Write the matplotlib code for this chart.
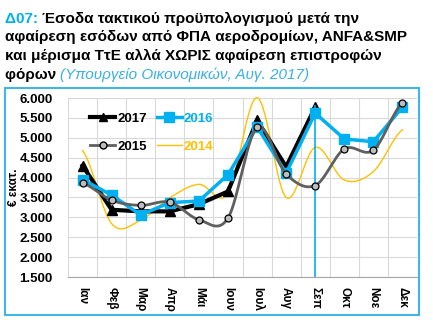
import numpy as np
import matplotlib
matplotlib.use("Agg")
import matplotlib.pyplot as plt
from matplotlib.patches import Rectangle
from matplotlib.lines import Line2D

plt.rcParams['font.family'] = ['Liberation Sans', 'DejaVu Sans']

months = ['Ιαν', 'Φεβ', 'Μαρ', 'Απρ', 'Μάι', 'Ιουν', 'Ιουλ', 'Αυγ', 'Σεπ', 'Οκτ', 'Νοε', 'Δεκ']

# εκατ. ευρώ ανά μήνα
y2017 = [4300, 3190, 3150, 3150, 3330, 3650, 5440, 4270, 5770]
y2016 = [3950, 3560, 3060, 3370, 3410, 4070, 5280, 4110, 5620, 4970, 4900, 5770]
y2015 = [3860, 3430, 3300, 3380, 2940, 2980, 5260, 4090, 3800, 4720, 4690, 5870]
y2014 = [4680, 2840, 2930, 3490, 3830, 3600, 6010, 3500, 4760, 3940, 4150, 5200]

sep_line_top = 5830

BLUE = '#00B0F0'
ORANGE = '#FFC000'
GRAY = '#5F5F5F'
W, H = 433, 323


def smooth(y, n=30):
    # καμπύλη Catmull-Rom όπως η "εξομάλυνση γραμμής" του Excel
    y = np.asarray(y, float)
    k = len(y)
    m = np.empty(k)
    m[1:-1] = (y[2:] - y[:-2]) / 2
    m[0] = (y[1] - y[0]) / 2
    m[-1] = (y[-1] - y[-2]) / 2
    xs, ys = [], []
    for i in range(k - 1):
        t = np.linspace(0, 1, n, endpoint=(i == k - 2))
        h00 = 2 * t**3 - 3 * t**2 + 1
        h10 = t**3 - 2 * t**2 + t
        h01 = -2 * t**3 + 3 * t**2
        h11 = t**3 - t**2
        xs.append(i + t)
        ys.append(h00 * y[i] + h10 * m[i] + h01 * y[i + 1] + h11 * m[i + 1])
    return np.concatenate(xs), np.concatenate(ys)


fig = plt.figure(figsize=(W / 100, H / 100), dpi=100)
ax = fig.add_axes([68 / W, 1 - 277 / H, (417 - 68) / W, (277 - 98) / H])

x = np.arange(len(months))

xs, ys = smooth(y2014)
ax.plot(xs, ys, color=ORANGE, lw=1.0, zorder=3, clip_on=False)
ax.plot(x[:len(y2017)], y2017, color='black', lw=3, marker='^', ms=7, zorder=4)
ax.plot(x, y2016, color=BLUE, lw=2.5, marker='s', ms=7.5, zorder=5)
xs, ys = smooth(y2015)
ax.plot(xs, ys, color=GRAY, lw=2, zorder=6)
ax.plot(x, y2015, ls='none', marker='o', ms=5, mfc='#BDBDBD', mec='black', mew=0.9, zorder=7)

ax.vlines(8, 1500, sep_line_top, color=BLUE, lw=1.2, zorder=4, clip_on=False)

ax.set_xlim(-0.5, 11.5)
ax.set_ylim(1500, 6000)
ax.set_xticks(x)
ax.set_xticklabels(months, rotation=-90, fontsize=8.5, fontweight='bold', va='top')
ax.set_xticks(np.arange(-0.5, 12, 1), minor=True)
ax.set_yticks(np.arange(1500, 6001, 500))
ax.set_yticklabels([f'{v:,}'.replace(',', '.') for v in range(1500, 6001, 500)],
                   fontsize=9.5, fontweight='bold')
ax.tick_params(axis='x', which='both', length=0, pad=7)
ax.tick_params(axis='y', length=0, pad=11)
ax.grid(True, axis='y', color='#D9D9D9', lw=0.8)
ax.grid(True, axis='x', which='minor', color='#D9D9D9', lw=0.8)
ax.set_axisbelow(True)
for s in ['top', 'right', 'left']:
    ax.spines[s].set_visible(False)
ax.spines['bottom'].set_color('#A6A6A6')
ax.set_ylabel('€ εκατ.', fontsize=8.5, fontweight='bold', va='center')
ax.yaxis.set_label_coords(-0.155, 0.5)

handles = [
    Line2D([], [], color='black', lw=3, marker='^', ms=6),
    Line2D([], [], color=GRAY, lw=2, marker='o', ms=5, mfc='#BDBDBD', mec='black'),
    Line2D([], [], color=BLUE, lw=2.5, marker='s', ms=7),
    Line2D([], [], color=ORANGE, lw=1),
]
leg = ax.legend(handles, ['2017', '2015', '2016', '2014'], ncol=2, loc='upper left',
                bbox_to_anchor=(0.045, 0.955), frameon=False, borderpad=0,
                handlelength=1.9, handletextpad=0.15, columnspacing=0.75,
                labelspacing=1.2, prop={'weight': 'bold', 'size': 9.5},
                labelcolor=['black', 'black', BLUE, ORANGE])

# πλαίσιο γραφήματος
fig.patches.append(Rectangle((5 / W, 1 - 315 / H), 414 / W, 227 / H,
                             transform=fig.transFigure, fill=False,
                             ec='#3FB6E3', lw=1.5))

# τίτλος
renderer = fig.canvas.get_renderer()
tsize = 10.95
lines = [
    [('Δ07: ', BLUE, 'normal'), ('Έσοδα τακτικού προϋπολογισμού μετά την', 'black', 'normal')],
    [('αφαίρεση εσόδων από ΦΠΑ αεροδρομίων, ANFA&SMP', 'black', 'normal')],
    [('και μέρισμα ΤτΕ αλλά ΧΩΡΙΣ αφαίρεση επιστροφών', 'black', 'normal')],
    [('φόρων ', 'black', 'normal'), ('(Υπουργείο Οικονομικών, Αυγ. 2017)', '#3AB0E2', 'italic')],
]
base = 23
for i, parts in enumerate(lines):
    xp = 5
    for txt, col, style in parts:
        bold = 'normal' if style == 'italic' else 'bold'
        t = fig.text(xp / W, 1 - (base + i * 18.5) / H, txt, color=col, fontsize=tsize,
                     fontweight=bold, fontstyle=style, va='baseline', ha='left')
        xp = t.get_window_extent(renderer).x1

fig.savefig('out.png', dpi=100)
